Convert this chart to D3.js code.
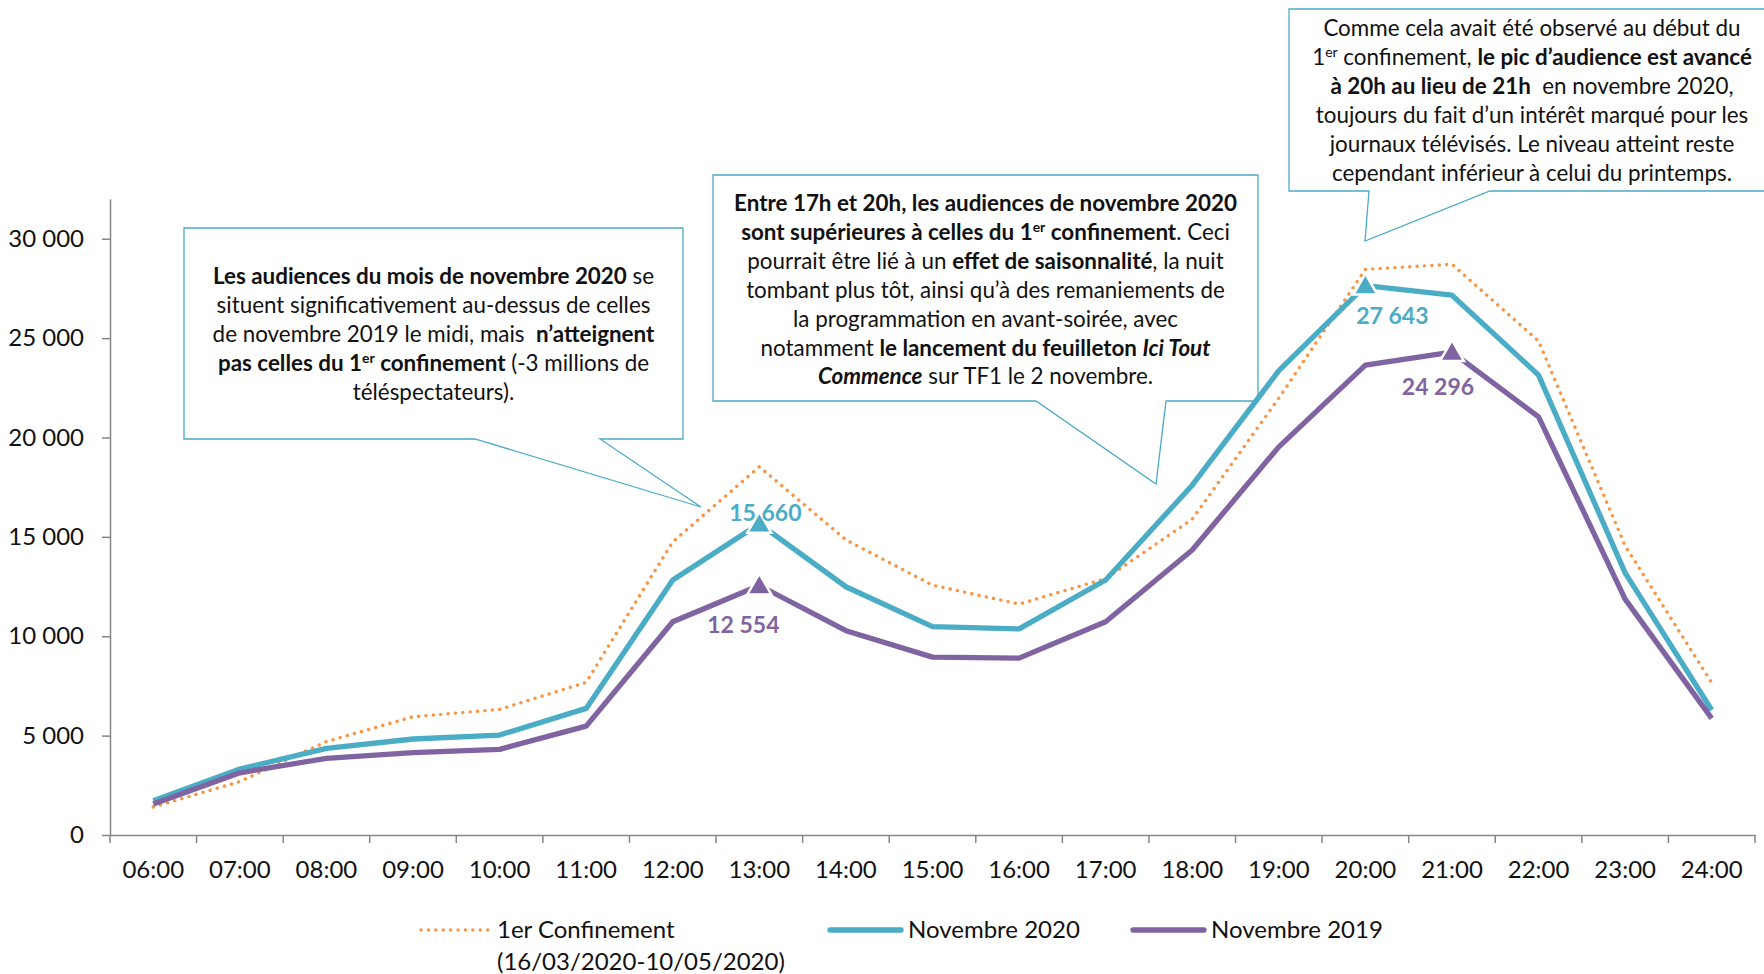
<!DOCTYPE html>
<html>
<head>
<meta charset="utf-8">
<script src="https://cdn.jsdelivr.net/npm/d3@7"></script>
<style>
  body { margin: 0; background: #fff; }
  svg { display: block; font-family: Lato, "Open Sans", sans-serif; }
</style>
</head>
<body>
<script>
// hours of the day
const categories = ["06:00", "07:00", "08:00", "09:00", "10:00", "11:00", "12:00", "13:00", "14:00", "15:00",
    "16:00", "17:00", "18:00", "19:00", "20:00", "21:00", "22:00", "23:00", "24:00"];

// audiences (milliers)
const confinement = [1410, 2690, 4700, 5950, 6320, 7680, 14750, 18530, 14850, 12570,
    11620, 12900, 15890, 21980, 28460, 28720, 24850, 14550, 7660];
const nov2020 = [1730, 3320, 4360, 4830, 5030, 6370, 12830, 15660, 12490, 10480,
    10370, 12830, 17600, 23360, 27643, 27160, 23140, 13190, 6290];
const nov2019 = [1560, 3130, 3860, 4140, 4310, 5480, 10730, 12554, 10280, 8950,
    8900, 10730, 14340, 19530, 23640, 24296, 21040, 11870, 5870];

const yTicks = [0, 5000, 10000, 15000, 20000, 25000, 30000];

const seriesNames = ["1er Confinement", "Novembre 2020", "Novembre 2019"];

const width = 1764, height = 974;
const svg = d3.select("body").append("svg")
    .attr("width", width)
    .attr("height", height);

const x = d3.scaleBand().domain(categories).range([110, 1755]);
const y = d3.scaleLinear().domain([0, 32000]).range([835, 199]);

const fr = d3.formatLocale({ decimal: ",", thousands: " ", grouping: [3], currency: ["", " €"] });
const fmt = fr.format(",d");

// callout boxes (drawn under the lines)
const callouts = [
    {
        outline: [[184, 228], [683, 228], [683, 439], [600, 439], [701, 507], [475, 439], [184, 439]],
        cx: 433.5, top: 284,
        lines: [
            [["Les audiences du mois de novembre 2020", "b"], [" se", ""]],
            [["situent significativement au-dessus de celles", ""]],
            [["de novembre 2019 le midi, mais  ", ""], ["n’atteignent", "b"]],
            [["pas celles du 1", "b"], ["er", "bs"], [" confinement", "b"], [" (-3 millions de", ""]],
            [["téléspectateurs).", ""]]
        ]
    },
    {
        outline: [[713, 175], [1258, 175], [1258, 401], [1166, 401], [1156, 484], [1036, 401], [713, 401]],
        cx: 985.5, top: 211,
        lines: [
            [["Entre 17h et 20h, les audiences de novembre 2020", "b"]],
            [["sont supérieures à celles du 1", "b"], ["er", "bs"], [" confinement", "b"], [". Ceci", ""]],
            [["pourrait être lié à un ", ""], ["effet de saisonnalité", "b"], [", la nuit", ""]],
            [["tombant plus tôt, ainsi qu’à des remaniements de", ""]],
            [["la programmation en avant-soirée, avec", ""]],
            [["notamment ", ""], ["le lancement du feuilleton ", "b"], ["Ici Tout", "bi"]],
            [["Commence", "bi"], [" sur TF1 le 2 novembre.", ""]]
        ]
    },
    {
        outline: [[1289, 9], [1780, 9], [1780, 191], [1490, 191], [1365, 241], [1369, 191], [1289, 191]],
        cx: 1532, top: 36,
        lines: [
            [["Comme cela avait été observé au début du", ""]],
            [["1", ""], ["er", "s"], [" confinement, ", ""], ["le pic d’audience est avancé", "b"]],
            [["à 20h au lieu de 21h", "b"], ["  en novembre 2020,", ""]],
            [["toujours du fait d’un intérêt marqué pour les", ""]],
            [["journaux télévisés. Le niveau atteint reste", ""]],
            [["cependant inférieur à celui du printemps.", ""]]
        ]
    }
];

const lineH = 28.9;

callouts.forEach(function (c) {
    svg.append("path")
        .attr("d", d3.line()(c.outline) + "Z")
        .attr("fill", "#fff")
        .attr("stroke", "#4bacc6")
        .attr("stroke-width", 1.3);

    const text = svg.append("text")
        .attr("font-size", 22.4)
        .attr("text-anchor", "middle")
        .attr("fill", "#111")
        .style("white-space", "pre");

    c.lines.forEach(function (line, i) {
        const row = text.append("tspan").attr("x", c.cx).attr("y", c.top + i * lineH);
        let raised = false;
        line.forEach(function ([str, st]) {
            const t = row.append("tspan").text(str);
            if (st.includes("b")) t.attr("font-weight", "bold");
            if (st.includes("i")) t.attr("font-style", "italic");
            if (st.includes("s")) {
                t.attr("font-size", 14).attr("dy", -8);
                raised = true;
            } else if (raised) {
                t.attr("dy", 8);
                raised = false;
            }
        });
    });
});

// axes
const axisColor = "#868686";

const yAxis = svg.append("g")
    .attr("transform", "translate(110,0)")
    .call(d3.axisLeft(y).tickValues(yTicks).tickFormat(fmt).tickSize(8).tickSizeOuter(0).tickPadding(18));

const xAxis = svg.append("g")
    .attr("transform", "translate(0,835)")
    .call(d3.axisBottom(x).tickSize(0).tickSizeOuter(0));

xAxis.selectAll(".tick text").attr("y", 35).attr("dy", "0.35em");

// Excel style ticks between categories
const bounds = categories.map(c => x(c)).concat([x.range()[1]]);
xAxis.selectAll(".bound")
    .data(bounds)
    .enter()
    .append("line")
    .attr("class", "bound")
    .attr("x1", d => d).attr("x2", d => d)
    .attr("y1", 0).attr("y2", 8);

[yAxis, xAxis].forEach(function (g) {
    g.selectAll("path, line").attr("stroke", axisColor).attr("stroke-width", 1.5);
    g.selectAll("text").attr("font-family", "Lato").attr("font-size", 24).attr("fill", "#111");
});

// series
const cx = (d, i) => x(categories[i]) + x.bandwidth() / 2;
const line = d3.line().x(cx).y(d => y(d));

svg.append("path")
    .datum(confinement)
    .attr("d", line)
    .attr("fill", "none")
    .attr("stroke", "#f79646")
    .attr("stroke-width", 3.4)
    .attr("stroke-linecap", "round")
    .attr("stroke-dasharray", "0.1 7.3");

const solid = [
    { values: nov2020, color: "#4bacc6", marks: [7, 14], offsets: [[6, -11], [27, 30]] },
    { values: nov2019, color: "#8064a2", marks: [7, 15], offsets: [[-16, 39], [-14, 35]] }
];

solid.forEach(function (s) {
    svg.append("path")
        .datum(s.values)
        .attr("d", line)
        .attr("fill", "none")
        .attr("stroke", s.color)
        .attr("stroke-width", 5.3)
        .attr("stroke-linejoin", "round");
});

solid.forEach(function (s) {
    s.marks.forEach(function (i, k) {
        const px = cx(null, i), py = y(s.values[i]);
        svg.append("path")
            .attr("d", d3.symbol(d3.symbolTriangle, 250)())
            .attr("transform", "translate(" + px + "," + (py + 2) + ")")
            .attr("fill", s.color)
            .attr("stroke", "#fff")
            .attr("stroke-width", 2.5);
        svg.append("text")
            .attr("x", px + s.offsets[k][0])
            .attr("y", py + s.offsets[k][1])
            .attr("dy", "0.36em")
            .attr("text-anchor", "middle")
            .attr("font-size", 23)
            .attr("font-weight", "bold")
            .attr("fill", s.color)
            .text(fmt(s.values[i]));
    });
});

// legend
const legend = svg.append("g").attr("font-size", 24).attr("fill", "#111");
const legendItems = [
    { x1: 421, x2: 489, tx: 497, color: "#f79646", dotted: true },
    { x1: 830, x2: 901, tx: 908, color: "#4bacc6", dotted: false },
    { x1: 1133, x2: 1204, tx: 1211, color: "#8064a2", dotted: false }
];
legendItems.forEach(function (d, i) {
    const l = legend.append("line")
        .attr("x1", d.x1).attr("x2", d.x2)
        .attr("y1", 930).attr("y2", 930)
        .attr("stroke", d.color)
        .attr("stroke-linecap", "round");
    if (d.dotted) {
        l.attr("stroke-width", 3.4).attr("stroke-dasharray", "0.1 7.3");
    } else {
        l.attr("stroke-width", 5.3);
    }
    legend.append("text")
        .attr("x", d.tx).attr("y", 930).attr("dy", "0.35em")
        .text(seriesNames[i]);
});
legend.append("text")
    .attr("x", 497).attr("y", 962).attr("dy", "0.35em")
    .text("(16/03/2020-10/05/2020)");
</script>
</body>
</html>
